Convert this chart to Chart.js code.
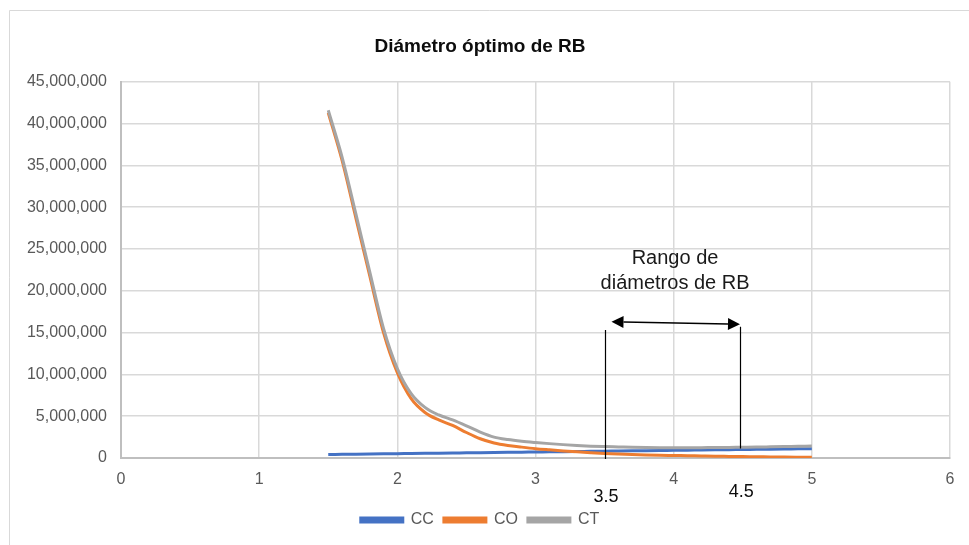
<!DOCTYPE html>
<html>
<head>
<meta charset="utf-8">
<script src="https://cdn.jsdelivr.net/npm/chart.js@4.4.1/dist/chart.umd.min.js"></script>
<style>
  html, body { margin: 0; padding: 0; background: #fff; }
  #wrap { width: 969px; height: 545px; }
</style>
</head>
<body>
<div id="wrap"><canvas id="chart"></canvas></div>
<script>
// diámetro (x)
const xValues = [1.5, 1.6, 1.7, 1.8, 1.9, 2.0, 2.1, 2.2, 2.3, 2.4, 2.5, 2.6, 2.7, 2.8, 2.9, 3.0, 3.1, 3.2,
  3.3, 3.4, 3.5, 3.6, 3.7, 3.8, 3.9, 4.0, 4.1, 4.2, 4.3, 4.4, 4.5, 4.6, 4.7, 4.8, 4.9, 5.0];
// CC
const ccValues = [420000, 440000, 460000, 480000, 500000, 520000, 540000, 560000, 580000, 600000, 620000, 640000,
  660000, 680000, 700000, 720000, 740000, 760000, 780000, 800000, 820000, 840000, 860000, 880000, 900000, 920000,
  940000, 960000, 980000, 1000000, 1020000, 1040000, 1060000, 1080000, 1100000, 1120000];
// CO
const coValues = [41300000, 35600000, 28700000, 21800000, 15000000, 10200000, 7100000, 5450000, 4550000, 3900000,
  3050000, 2300000, 1800000, 1500000, 1300000, 1120000, 980000, 850000, 740000, 640000, 550000, 480000, 420000,
  370000, 330000, 300000, 270000, 240000, 210000, 190000, 170000, 150000, 130000, 110000, 100000, 90000];
// CT
const ctValues = [41600000, 36000000, 29200000, 22300000, 15500000, 10700000, 7700000, 6050000, 5150000, 4550000,
  3850000, 3100000, 2500000, 2200000, 2000000, 1850000, 1720000, 1600000, 1500000, 1420000, 1370000, 1330000,
  1290000, 1260000, 1240000, 1230000, 1230000, 1240000, 1250000, 1270000, 1290000, 1310000, 1340000, 1370000,
  1400000, 1430000];

const seriesNames = ['CC', 'CO', 'CT'];
const xTicks = [0, 1, 2, 3, 4, 5, 6];
const rangeLabels = ['3.5', '4.5'];
const rangeText = ['Rango de', 'diámetros de RB'];

const FONT = "'Liberation Sans', Arial, sans-serif";

function toPoints(ys) {
  return xValues.map((x, i) => ({ x: x, y: ys[i] }));
}

// anotaciones (rango de diámetros)
const annotations = {
  id: 'annotations',
  beforeDraw(chart) {
    const c = chart.ctx;
    c.save();
    c.fillStyle = '#fff';
    c.fillRect(0, 0, chart.width, chart.height);
    c.strokeStyle = '#d9d9d9';
    c.lineWidth = 1;
    c.beginPath();
    c.moveTo(9.5, chart.height);
    c.lineTo(9.5, 10.5);
    c.lineTo(chart.width, 10.5);
    c.stroke();
    c.restore();
  },
  afterDatasetsDraw(chart) {
    const c = chart.ctx;
    const xs = chart.scales.x, ys = chart.scales.y;
    c.save();
    c.strokeStyle = '#000';
    c.lineWidth = 1.2;
    // lineas verticales
    c.beginPath();
    c.moveTo(Math.round(xs.getPixelForValue(3.5)) + 0.5, ys.getPixelForValue(0) + 1);
    c.lineTo(Math.round(xs.getPixelForValue(3.5)) + 0.5, ys.getPixelForValue(15300000));
    c.moveTo(Math.round(xs.getPixelForValue(4.48)) + 0.5, ys.getPixelForValue(1150000));
    c.lineTo(Math.round(xs.getPixelForValue(4.48)) + 0.5, ys.getPixelForValue(15700000));
    c.stroke();

    // flecha doble
    const ax1 = xs.getPixelForValue(3.55), ay1 = ys.getPixelForValue(16300000);
    const ax2 = xs.getPixelForValue(4.48), ay2 = ys.getPixelForValue(16000000);
    const ang = Math.atan2(ay2 - ay1, ax2 - ax1);
    const len = 12, half = 6;
    c.lineWidth = 1.5;
    c.beginPath();
    c.moveTo(ax1 + len * Math.cos(ang), ay1 + len * Math.sin(ang));
    c.lineTo(ax2 - len * Math.cos(ang), ay2 - len * Math.sin(ang));
    c.stroke();
    c.fillStyle = '#000';
    function head(tx, ty, dir) {
      const bx = tx - dir * len * Math.cos(ang), by = ty - dir * len * Math.sin(ang);
      c.beginPath();
      c.moveTo(tx, ty);
      c.lineTo(bx - half * Math.sin(ang), by + half * Math.cos(ang));
      c.lineTo(bx + half * Math.sin(ang), by - half * Math.cos(ang));
      c.closePath();
      c.fill();
    }
    head(ax1, ay1, -1);
    head(ax2, ay2, 1);

    // texto
    c.fillStyle = '#1a1a1a';
    c.textAlign = 'center';
    c.textBaseline = 'middle';
    c.font = '20px ' + FONT;
    const tx = xs.getPixelForValue(4.01);
    c.fillText(rangeText[0], tx, ys.getPixelForValue(23850000));
    c.fillText(rangeText[1], tx, ys.getPixelForValue(20870000));

    c.font = '18px ' + FONT;
    c.fillStyle = '#0d0d0d';
    const base = ys.getPixelForValue(0);
    c.fillText(rangeLabels[0], xs.getPixelForValue(3.51), base + 39);
    c.fillText(rangeLabels[1], xs.getPixelForValue(4.49), base + 34);
    c.restore();
  }
};

const colors = ['#4472C4', '#ED7D31', '#A5A5A5'];
const seriesValues = [ccValues, coValues, ctValues];

new Chart(document.getElementById('chart'), {
  type: 'scatter',
  data: {
    datasets: seriesNames.map((name, i) => ({
      label: name,
      data: toPoints(seriesValues[i]),
      showLine: true,
      borderColor: colors[i],
      backgroundColor: colors[i],
      borderWidth: 3,
      pointRadius: 0,
      pointHoverRadius: 0,
      cubicInterpolationMode: 'monotone',
      order: 2 - i
    }))
  },
  options: {
    responsive: true,
    maintainAspectRatio: false,
    animation: false,
    layout: { padding: { left: 10, right: 19, top: 0, bottom: 7 } },
    plugins: {
      title: {
        display: true,
        text: 'Diámetro óptimo de RB',
        color: '#0d0d0d',
        font: { family: FONT, size: 19, weight: 'bold' },
        padding: { top: 35, bottom: 24 }
      },
      legend: {
        position: 'bottom',
        labels: {
          boxWidth: 42,
          boxHeight: 4,
          color: '#595959',
          font: { family: FONT, size: 16 },
          padding: 10,
          sort: (a, b) => a.datasetIndex - b.datasetIndex
        }
      },
      tooltip: { enabled: false }
    },
    scales: {
      x: {
        type: 'linear',
        min: 0,
        max: 6,
        afterBuildTicks: s => { s.ticks = xTicks.map(v => ({ value: v })); },
        afterFit: s => { s.height = 44; },
        grid: { color: '#d9d9d9', lineWidth: 1.5, drawTicks: false },
        border: { color: '#bfbfbf', width: 2 },
        ticks: { color: '#595959', font: { family: FONT, size: 16 }, padding: 12 }
      },
      y: {
        min: 0,
        max: 45000000,
        afterFit: s => { s.width = 111; },
        grid: { color: '#d9d9d9', lineWidth: 1.5, drawTicks: false },
        border: { color: '#bfbfbf', width: 2 },
        ticks: {
          stepSize: 5000000,
          color: '#595959',
          font: { family: FONT, size: 16 },
          padding: 14,
          callback: v => v.toLocaleString('en-US')
        }
      }
    }
  },
  plugins: [annotations]
});
</script>
</body>
</html>
